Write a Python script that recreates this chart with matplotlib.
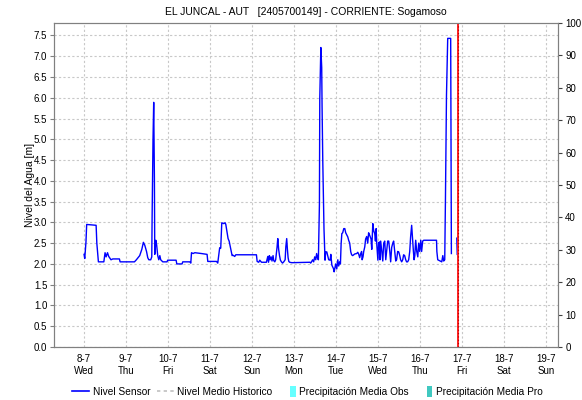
import numpy as np
import pandas as pd
import matplotlib
matplotlib.use("Agg")
import matplotlib.pyplot as plt
from matplotlib.lines import Line2D
from matplotlib.patches import Patch, Rectangle
from matplotlib.legend_handler import HandlerPatch

# horas desde 8-7 00:00 y nivel del sensor [m]
horas = [0.0, 0.4, 1.1, 1.5, 6.9, 7.3, 8.2, 11.3, 12.0, 12.6, 13.4, 14.1, 15.4, 16.4,
         20.2, 20.6, 28.8, 29.9, 31.8, 33.0, 33.9, 34.7, 35.7, 36.4, 37.0, 38.1, 38.7,
         38.9, 39.4, 39.8, 40.2, 40.4, 41.0, 41.5, 42.1, 42.7, 43.3, 43.8, 45.0, 47.4,
         47.8, 52.6, 53.0, 56.0, 56.4, 60.4, 61.0, 61.4, 62.3, 63.3, 67.1, 70.3, 70.7,
         75.7, 76.4, 77.1, 77.5, 78.1, 78.7, 79.8, 80.6, 81.0, 81.7, 82.3, 82.9, 83.4,
         84.0, 84.6, 85.1, 86.1, 86.7, 98.5, 98.9, 99.8, 100.4, 101.4, 104.2, 105.0,
         105.4, 105.9, 106.3, 106.9, 107.4, 108.0, 108.4, 109.0, 109.5, 110.3, 110.7,
         111.2, 111.7, 112.2, 112.8, 113.4, 114.1, 114.9, 115.3, 115.8, 116.2, 116.6,
         117.0, 117.5, 118.7, 129.1, 129.5, 130.1, 130.6, 131.2, 131.8, 132.4, 132.9,
         133.5, 133.9, 134.5, 134.7, 135.3, 135.8, 136.0, 136.4, 137.1, 137.7, 138.1,
         138.7, 139.2, 139.8, 140.6, 141.0, 141.6, 142.5, 142.9, 143.3, 143.8, 144.4,
         145.0, 145.5, 146.1, 146.5, 146.9, 147.3, 147.8, 148.4, 149.0, 149.5, 150.1,
         150.7, 151.2, 151.8, 152.4, 152.9, 153.5, 154.1, 154.7, 155.8, 156.4, 156.9,
         157.5, 158.1, 158.6, 158.9, 159.4, 159.8, 160.4, 160.9, 161.5, 162.1, 162.6,
         163.2, 164.0, 164.4, 165.0, 165.5, 166.1, 166.5, 166.9, 167.3, 167.9, 168.3,
         168.8, 169.1, 169.5, 170.1, 170.7, 171.2, 171.8, 172.4, 172.9, 173.5, 174.1,
         174.7, 175.2, 175.8, 176.4, 176.9, 177.5, 178.1, 178.6, 179.2, 179.8, 180.4,
         180.9, 181.5, 182.1, 182.6, 183.2, 183.8, 184.3, 184.9, 185.5, 186.1, 186.6,
         187.2, 187.8, 188.2, 188.6, 189.0, 189.5, 190.1, 190.7, 191.2, 191.8, 192.4,
         192.9, 193.5, 194.1, 201.4, 201.6, 202.1, 204.4, 205.0, 205.5, 206.1, 206.5,
         207.1, 207.8, 209.5, 209.7, 209.9, 211.5, 213.0, 213.25]
nivel = [2.23, 2.13, 2.53, 2.95, 2.93, 2.50, 2.05, 2.05, 2.27, 2.17, 2.27, 2.18, 2.10, 2.12,
         2.12, 2.05, 2.05, 2.10, 2.20, 2.35, 2.52, 2.45, 2.30, 2.15, 2.10, 2.10, 2.17,
         3.15, 4.98, 5.89, 4.06, 2.23, 2.57, 2.45, 2.20, 2.10, 2.20, 2.10, 2.05, 2.05,
         2.09, 2.09, 2.00, 2.00, 2.05, 2.05, 2.02, 2.27, 2.25, 2.27, 2.25, 2.23, 2.06,
         2.06, 2.02, 2.25, 2.39, 2.38, 2.99, 2.97, 2.99, 2.95, 2.77, 2.61, 2.55, 2.45,
         2.33, 2.20, 2.21, 2.18, 2.22, 2.22, 2.06, 2.04, 2.09, 2.04, 2.04, 2.18,
         2.04, 2.20, 2.10, 2.17, 2.07, 2.20, 2.08, 2.05, 2.10, 2.41, 2.61,
         2.35, 2.20, 2.09, 2.05, 2.02, 2.05, 2.10, 2.41, 2.61, 2.35, 2.15,
         2.06, 2.04, 2.03, 2.04, 2.02, 2.06, 2.10, 2.05, 2.17, 2.10, 2.25,
         2.13, 2.10, 3.45, 5.98, 7.21, 6.73, 5.82, 4.50, 2.85, 2.09, 2.29,
         2.29, 2.20, 2.10, 2.09, 2.23, 1.97, 1.89, 1.81, 1.90, 2.00, 1.88,
         2.10, 1.95, 2.05, 2.00, 2.49, 2.73, 2.75, 2.85, 2.85, 2.75, 2.70,
         2.65, 2.57, 2.50, 2.29, 2.22, 2.20, 2.22, 2.24, 2.25, 2.28, 2.24,
         2.15, 2.25, 2.30, 2.10, 2.17, 2.30, 2.41, 2.60, 2.66, 2.50, 2.75,
         2.69, 2.60, 2.35, 2.97, 2.80, 2.73, 2.55, 2.85, 2.45, 2.09, 2.50,
         2.53, 2.10, 2.55, 2.30, 2.07, 2.50, 2.55, 2.10, 2.30, 2.55, 2.55,
         2.30, 2.05, 2.40, 2.50, 2.55, 2.30, 2.07, 2.10, 2.30, 2.29, 2.20,
         2.10, 2.05, 2.10, 2.22, 2.20, 2.10, 2.05, 2.05, 2.10, 2.30, 2.65,
         2.93, 2.55, 2.30, 2.10, 2.20, 2.57, 2.30, 2.17, 2.50, 2.30, 2.57,
         2.30, 2.55, 2.57, 2.57, 2.30, 2.10, 2.05, 2.20, 2.07, 2.10, 3.53,
         6.06, 7.43, 7.43, 4.83, 2.25, np.nan, 2.62, 2.23]

inicio = pd.Timestamp("2020-07-08")
ahora = inicio + pd.Timedelta(hours=213.7)
x_min = pd.Timestamp("2020-07-07 07:00")
x_max = pd.Timestamp("2020-07-19 07:00")
dias = pd.date_range("2020-07-08", "2020-07-19", freq="D")

titulo = "EL JUNCAL - AUT   [2405700149] - CORRIENTE: Sogamoso"
etiquetas = ["Nivel Sensor", "Nivel Medio Historico",
             "Precipitación Media Obs", "Precipitación Media Pro"]

plt.rcParams['font.family'] = ['Liberation Sans', 'DejaVu Sans']

fig = plt.figure(figsize=(5.82, 4.0), dpi=100)
ax = fig.add_axes([0.0933, 0.1325, 0.866, 0.81])

t = inicio + pd.to_timedelta(horas, unit="h")
ax.plot(t, nivel, color="#0000ff", lw=1.0, zorder=3)

ax.axvline(ahora, color="#ff2020", lw=1.4, zorder=4)
ax.axvline(ahora, color="#b00000", lw=0.8, ls=(0, (1, 2)), zorder=5)

ax.set_xlim(x_min, x_max)
ax.set_ylim(0, 7.8)
ax.set_yticks(np.arange(0, 7.51, 0.5))
ax.set_yticklabels([f"{v:.1f}" for v in np.arange(0, 7.51, 0.5)])
ax.set_xticks(dias)
ax.set_xticklabels([f"{d.day}-{d.month}\n{d.strftime('%a')}" for d in dias])
ax.tick_params(axis="x", length=0, labelsize=7, pad=5)
ax.tick_params(axis="y", length=3, labelsize=7, color="#808080", pad=2)
ax.grid(True, color="#c8c8c8", ls=(0, (2, 2)), lw=0.8)
ax.set_axisbelow(True)
ax.set_ylabel("Nivel del Agua [m]", fontsize=7.5, labelpad=-1)
ax.set_title(titulo, fontsize=7.5, pad=6)

ax2 = ax.twinx()
ax2.set_ylim(0, 100)
ax2.set_yticks(np.arange(0, 101, 10))
ax2.tick_params(axis="y", length=3, labelsize=7, color="#404040", pad=2)

for a in (ax, ax2):
    for s in a.spines.values():
        s.set_color("#808080")


def caja_estrecha(legend, orig_handle, xdescent, ydescent, width, height, fontsize):
    w = 0.55 * fontsize
    return Rectangle((-xdescent + width - w, -ydescent - 0.2 * fontsize), w,
                     height + 0.4 * fontsize)


handles = [
    Line2D([], [], color="#0000ff", lw=1.2),
    Line2D([], [], color="#c0c0c0", lw=1.2, ls=(0, (2, 2))),
    Patch(facecolor="#66ffff", edgecolor="none"),
    Patch(facecolor="#40c8c0", edgecolor="none"),
]
fig.legend(handles, etiquetas, loc="center", bbox_to_anchor=(0.528, 0.02),
           ncol=4, frameon=False, fontsize=7.3, handlelength=1.7,
           handletextpad=0.35, columnspacing=0.6,
           handler_map={Patch: HandlerPatch(patch_func=caja_estrecha)})

fig.savefig("out.png", dpi=100)
